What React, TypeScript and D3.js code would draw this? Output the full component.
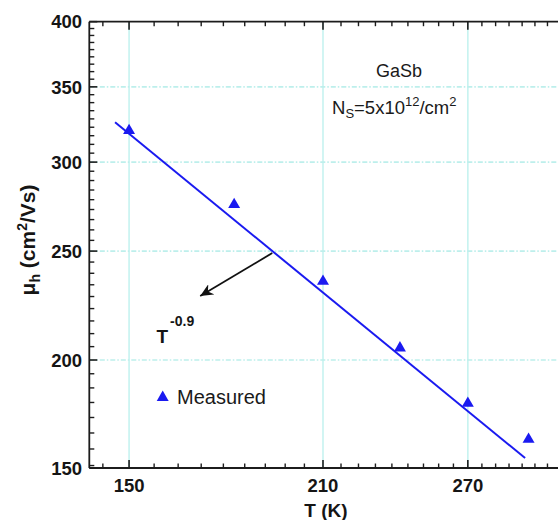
import React from 'react';
import * as d3 from 'd3';

// Measured Hall mobility vs temperature
const tempK = [150, 180, 210, 240, 270, 300];
const mobility = [320, 275, 235, 205, 183, 170];
// T^-0.9 fit line endpoints
const fitT = [146.4, 298.2];
const fitMu = [325.5, 163.6];
// annotation arrow (data units)
const arrowT = [192.3, 169.7];
const arrowMu = [249, 228];
// ticks
const xMajor = [90, 150, 210, 270, 330];
const xTickLabels = ['150', '210', '270'];
const yMajor = [150, 200, 250, 300, 350, 400];
const yTickLabels = ['150', '200', '250', '300', '350', '400'];
const xGrid = [150, 210, 270];
const yGrid = [200, 250, 300, 350];

const FONT = '"Liberation Sans", Arial, Helvetica, sans-serif';
const BLUE = '#1a1af0';
const AXIS = '#1c1c1c';

export default function App() {
  const W = 558, H = 520;
  const left = 89.3, top = 21.7, bottom = 468, right = 583.5;
  const x = d3.scaleLog().domain([140, 330]).range([left, right]);
  const y = d3.scaleLog().domain([160.3, 400]).range([bottom, top]);
  const yPos = (v: number) => y(Math.max(v, y.domain()[0]));

  const xMinor: number[] = [];
  for (let i = 0; i < xMajor.length - 1; i++) {
    const step = (xMajor[i + 1] - xMajor[i]) / 9;
    for (let k = 1; k < 9; k++) xMinor.push(xMajor[i] + k * step);
  }
  const xMinorIn = xMinor.filter(v => v > 140 && v < 330);
  const xMajorIn = xMajor.filter(v => v >= 140 && v <= 330);

  const yMinor: number[] = [];
  for (let i = 0; i < yMajor.length - 1; i++) {
    const step = (yMajor[i + 1] - yMajor[i]) / 9;
    for (let k = 1; k < 9; k++) yMinor.push(yMajor[i] + k * step);
  }
  const yMinorIn = yMinor.filter(v => v > 160.3 && v < 400);

  const line = d3.line<number>().x((_, i) => x(fitT[i])).y(d => y(d));
  const tri = d3.symbol().type(d3.symbolTriangle).size(62)();

  return (
    <div style={{ position: 'absolute', left: 0, top: 0 }}>
      <svg width={W} height={H} style={{ display: 'block', background: '#fff', fontFamily: FONT }}>
        <defs>
          <marker id="ah" markerUnits="userSpaceOnUse" markerWidth={14} markerHeight={12}
            refX={13} refY={6} orient="auto">
            <path d="M0,0 L13,6 L0,12 L4,6 Z" fill="#111" />
          </marker>
        </defs>
        {/* grid */}
        {xGrid.map(v => (
          <line key={'gx' + v} x1={x(v)} x2={x(v)} y1={top} y2={bottom}
            stroke="#c6f3f0" strokeWidth={1.6} />
        ))}
        {yGrid.map(v => (
          <line key={'gy' + v} x1={left} x2={W} y1={y(v)} y2={y(v)}
            stroke="#bdefec" strokeWidth={1.6} strokeDasharray="5,2,1.5,2" />
        ))}
        {/* fit line */}
        <path d={line(fitMu) || ''} fill="none" stroke={BLUE} strokeWidth={2} />
        {/* points */}
        {tempK.map((t, i) => (
          <path key={'p' + t} d={tri || ''} transform={`translate(${x(t)},${y(mobility[i])})`} fill={BLUE} />
        ))}
        {/* arrow */}
        <line x1={x(arrowT[0])} y1={y(arrowMu[0])} x2={x(arrowT[1])} y2={y(arrowMu[1])}
          stroke="#111" strokeWidth={1.8} markerEnd="url(#ah)" />
        {/* frame */}
        <line x1={left} x2={left} y1={top} y2={bottom} stroke={AXIS} strokeWidth={1.8} />
        <line x1={left} x2={W} y1={bottom} y2={bottom} stroke={AXIS} strokeWidth={1.8} />
        <line x1={left} x2={W} y1={top} y2={top} stroke={AXIS} strokeWidth={1.8} />
        {/* x ticks */}
        {xMajorIn.map(v => (
          <g key={'xm' + v}>
            <line x1={x(v)} x2={x(v)} y1={bottom} y2={bottom - 8} stroke={AXIS} strokeWidth={1.6} />
            <line x1={x(v)} x2={x(v)} y1={top} y2={top + 8} stroke={AXIS} strokeWidth={1.6} />
          </g>
        ))}
        {xMinorIn.map(v => (
          <g key={'xn' + v}>
            <line x1={x(v)} x2={x(v)} y1={bottom} y2={bottom - 4.5} stroke={AXIS} strokeWidth={1.4} />
            <line x1={x(v)} x2={x(v)} y1={top} y2={top + 4.5} stroke={AXIS} strokeWidth={1.4} />
          </g>
        ))}
        {xTickLabels.map(s => (
          <text key={'xl' + s} x={x(+s)} y={491.5} textAnchor="middle" fontSize={18.5}
            fontWeight="bold" fill="#151515">{s}</text>
        ))}
        {/* y ticks */}
        {yMajor.map(v => (
          <line key={'ym' + v} x1={left} x2={left + 8} y1={yPos(v)} y2={yPos(v)} stroke={AXIS} strokeWidth={1.6} />
        ))}
        {yMinorIn.map(v => (
          <line key={'yn' + v} x1={left} x2={left + 5} y1={y(v)} y2={y(v)} stroke={AXIS} strokeWidth={1.4} />
        ))}
        {yTickLabels.map(s => (
          <text key={'yl' + s} x={82} y={yPos(+s)} dy="0.36em" textAnchor="end" fontSize={18.5}
            fontWeight="bold" fill="#151515">{s}</text>
        ))}
        {/* axis titles */}
        <text x={326} y={516.5} textAnchor="middle" fontSize={19} fontWeight="bold" fill="#151515">T (K)</text>
        <text transform="translate(35,240) rotate(-90)" textAnchor="middle" fontSize={21}
          fontWeight="bold" fill="#151515">
          μ<tspan fontSize={14} dy={5}>h</tspan>
          <tspan dy={-5}> (cm</tspan>
          <tspan fontSize={14} dy={-8}>2</tspan>
          <tspan dy={8}>/Vs)</tspan>
        </text>
        {/* annotations */}
        <text x={376} y={77} fontSize={18} fill="#1a1a1a">GaSb</text>
        <text x={332} y={113.5} fontSize={18.5} fill="#1a1a1a">
          N<tspan fontSize={13} dy={4}>S</tspan>
          <tspan dy={-4}>=5x10</tspan>
          <tspan fontSize={13} dy={-8}>12</tspan>
          <tspan dy={8}>/cm</tspan>
          <tspan fontSize={13} dy={-8}>2</tspan>
        </text>
        <text x={156.5} y={343} fontSize={19} fontWeight="bold" fill="#151515">
          T<tspan fontSize={14} dy={-17} dx={2}>-0.9</tspan>
        </text>
        {/* legend */}
        <path d={tri || ''} transform="translate(162.7,397.5)" fill={BLUE} />
        <text x={177} y={403.5} fontSize={20} fill="#1a1a1a">Measured</text>
      </svg>
    </div>
  );
}
